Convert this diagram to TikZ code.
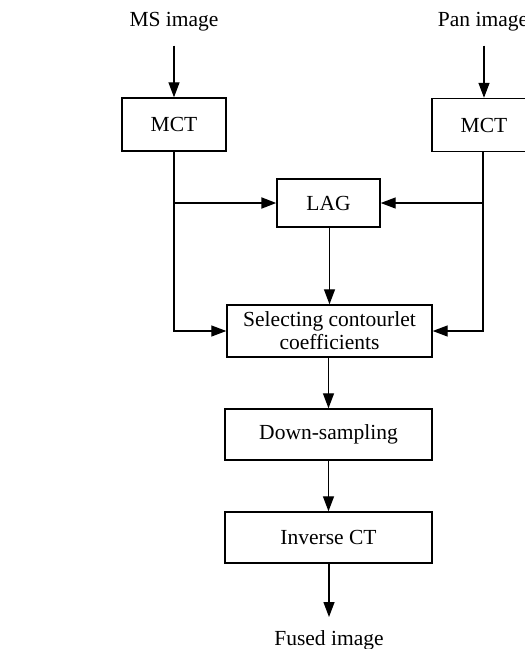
\documentclass[tikz,border=0pt]{standalone}
\usepackage{fontspec}
\setmainfont{Liberation Serif}
\usetikzlibrary{arrows.meta}
\begin{document}
\begin{tikzpicture}[x=1pt,y=-1pt,
  box/.style={draw,line width=1.4pt,minimum width=#1,inner sep=0pt,align=center,font=\fontsize{21.5}{24}\selectfont},
  lbl/.style={inner sep=0pt,font=\fontsize{21.5}{24}\selectfont},
  conn/.style={line width=1.3pt,-{Triangle[length=15pt,width=11pt]}}]
\useasboundingbox (0,0) rectangle (525,649);
\node[lbl] (ms) at (174,22) {MS image};
\node[lbl] (pan) at (483,22) {Pan image};
\node[box=104pt,minimum height=53pt] (mctL) at (174,124.5) {MCT};
\node[box=104pt,minimum height=53pt] (mctR) at (484,125) {MCT};
\node[box=103pt,minimum height=48pt] (lag) at (328.5,203) {LAG};
\node[box=205pt,minimum height=52pt] (sel) at (329.5,331) {Selecting contourlet\\[-1pt]coefficients};
\node[box=207pt,minimum height=51pt] (down) at (328.5,434.5) {Down-sampling};
\node[box=207pt,minimum height=51pt] (inv) at (328.5,537.5) {Inverse CT};
\node[lbl] (fused) at (329,640) {Fused image};
\draw[conn,shorten <=14pt] (ms) -- (mctL);
\draw[conn,shorten <=14pt] (pan.south -| mctR.north) -- (mctR.north);
\draw[conn] (mctL.south) -- (mctL.south |- sel.west) -- (sel.west);
\draw[conn] (mctR.south -| pan.south) -- (pan.south |- sel.east) -- (sel.east);
\draw[conn,line width=2pt] (mctL.south |- lag.west) -- (lag.west);
\draw[conn] (pan.south |- lag.east) -- (lag.east);
\draw[conn] (lag.south -| sel.north) -- (sel.north);
\draw[conn] (sel.south -| down.north) -- (down.north);
\draw[conn] (down) -- (inv);
\draw[conn,shorten >=13pt] (inv.south -| fused.north) -- (fused.north);
\end{tikzpicture}
\end{document}
